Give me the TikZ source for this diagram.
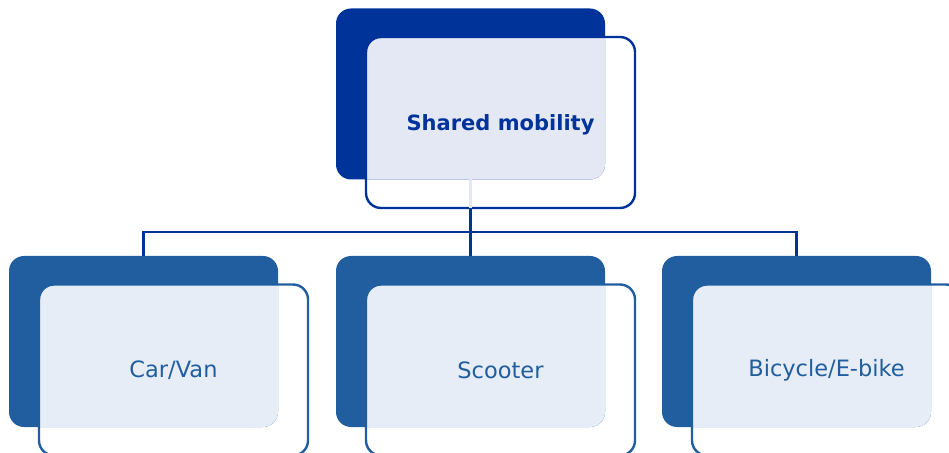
\documentclass[tikz,border=0pt]{standalone}
\usepackage{fontspec}
\setmainfont{DejaVu Sans}
\definecolor{topdark}{RGB}{0,51,153}
\definecolor{topfill}{RGB}{228,232,244}
\definecolor{kiddark}{RGB}{33,94,159}
\definecolor{kidfill}{RGB}{230,237,246}
\begin{document}
\begin{tikzpicture}[x=1pt, y=1pt, line width=2.4pt,
    back node/.style={rounded corners=15pt, minimum width=269pt, minimum height=171pt, inner sep=0pt, outer sep=0pt},
    front node/.style={draw, rounded corners=15pt, minimum width=269pt, minimum height=171pt,
                       inner sep=0pt, outer sep=0pt, font=\fontsize{22.5}{27}\selectfont}]

   \clip (0,0) rectangle (949,452);

   % dark boxes behind
   \node[back node, fill=topdark] (tb) at (470.5,358) {};
   \node[back node, fill=kiddark] (b1) at (143.5,110.5) {};
   \node[back node, fill=kiddark] (b2) at (470.5,110.5) {};
   \node[back node, fill=kiddark] (b3) at (796.5,110.5) {};

   % light part where the boxes overlap
   \begin{scope}
     \clip[rounded corners=15pt] (tb.north west) rectangle (tb.south east);
     \fill[topfill, rounded corners=15pt] ([shift={(30,-28.5)}]tb.north west) rectangle ([shift={(30,-28.5)}]tb.south east);
   \end{scope}
   \begin{scope}
     \clip[rounded corners=15pt] (b1.north west) rectangle (b1.south east);
     \fill[kidfill, rounded corners=15pt] ([shift={(30,-28.5)}]b1.north west) rectangle ([shift={(30,-28.5)}]b1.south east);
   \end{scope}
   \begin{scope}
     \clip[rounded corners=15pt] (b2.north west) rectangle (b2.south east);
     \fill[kidfill, rounded corners=15pt] ([shift={(30,-28.5)}]b2.north west) rectangle ([shift={(30,-28.5)}]b2.south east);
   \end{scope}
   \begin{scope}
     \clip[rounded corners=15pt] (b3.north west) rectangle (b3.south east);
     \fill[kidfill, rounded corners=15pt] ([shift={(30,-28.5)}]b3.north west) rectangle ([shift={(30,-28.5)}]b3.south east);
   \end{scope}

   % outlined boxes with the texts
   \node[front node, draw=topdark, text=topdark, text depth=-3pt, font=\fontsize{21}{25}\selectfont\bfseries] (tf) at ([shift={(30,-28.5)}]tb) {Shared mobility};
   \node[front node, draw=kiddark, text=kiddark] (f1) at ([shift={(30,-28.5)}]b1) {Car/Van};
   \node[front node, draw=kiddark, text=kiddark] (f2) at ([shift={(30,-28.5)}]b2) {Scooter};
   \node[front node, draw=kiddark, text=kiddark] (f3) at ([shift={(30,-28.5)}]b3) {Bicycle/E-bike};

   \coordinate (bar) at (0,220);

   \draw[topfill] (tb.south) -- (tb.south |- tf.south);
   \draw[topdark] (tb.south |- tf.south) -- (b2.north);
   \draw[topdark] (b1.north) |- (bar -| b3.north) -- (b3.north);

\end{tikzpicture}
\end{document}
